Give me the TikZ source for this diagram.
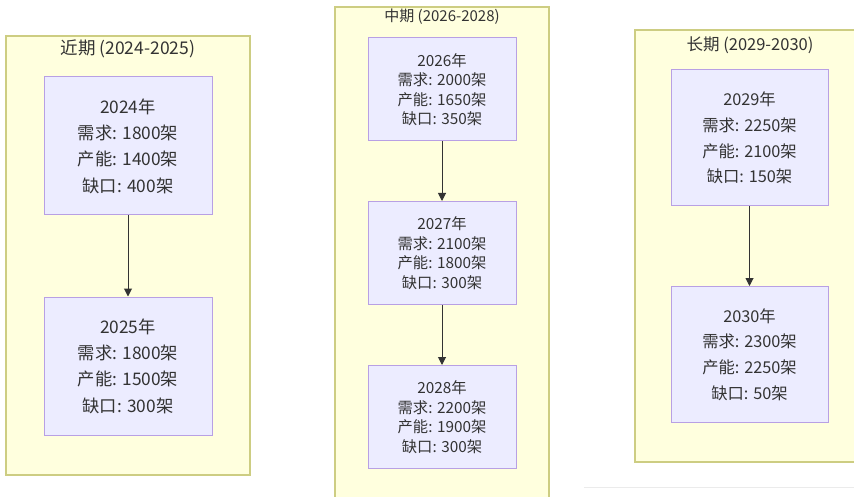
\documentclass[tikz,border=0pt]{standalone}
\usepackage{fontspec}
\setmainfont{Noto Sans CJK SC}
\usetikzlibrary{arrows.meta}
\definecolor{grpfill}{RGB}{255,255,222}
\definecolor{grpline}{RGB}{205,205,130}
\definecolor{yrfill}{RGB}{236,236,255}
\definecolor{yrline}{RGB}{184,160,228}
\definecolor{ink}{RGB}{51,51,51}

\begin{document}
\begin{tikzpicture}[x=1pt,y=-1pt,line width=0.8pt,>=Stealth]
\tikzset{grp/.style={draw=grpline,fill=grpfill,line width=1.4pt,inner sep=0pt},
  yr/.style={draw=yrline,fill=yrfill,line width=1pt,inner sep=0pt,align=center,text=ink},
  grptitle/.style={text=ink,inner sep=0pt},
  flow/.style={draw=ink,line width=1pt,-{Triangle[length=8pt,width=8pt]}}}
\clip (0,0) rectangle (854,497);
\fill[white] (0,0) rectangle (854,497);
% ---------- near term ----------
\node[grp,minimum width=244pt,minimum height=439pt] (near) at (128,255.5) {};
\node[grptitle,font=\fontsize{17.5}{20}\selectfont] (nearT) at (128,49) {近期 (2024-2025)};
\begin{scope}[every node/.append style={yr,minimum width=168pt,minimum height=138pt,font=\fontsize{17.3}{26.3}\selectfont}]
  \node (y24) at (128,146) {2024年\\需求: 1800架\\产能: 1400架\\缺口: 400架};
  \node (y25) at (128,366) {2025年\\需求: 1800架\\产能: 1500架\\缺口: 300架};
\end{scope}
\draw[flow] (y24) -- (y25);
% ---------- mid term ----------
\node[grp,minimum width=214pt,minimum height=520pt] (mid) at (442,267) {};
\node[grptitle,font=\fontsize{15}{17}\selectfont] (midT) at (442,17) {中期 (2026-2028)};
\begin{scope}[every node/.append style={yr,minimum width=148pt,minimum height=103pt,font=\fontsize{15.3}{19.5}\selectfont}]
  \node (y26) at (442,89.5) {2026年\\需求: 2000架\\产能: 1650架\\缺口: 350架};
  \node (y27) at (442,253) {2027年\\需求: 2100架\\产能: 1800架\\缺口: 300架};
  \node (y28) at (442,417) {2028年\\需求: 2200架\\产能: 1900架\\缺口: 300架};
\end{scope}
\draw[flow] (y26) -- (y27);
\draw[flow] (y27) -- (y28);
% ---------- long term ----------
\node[grp,minimum width=232pt,minimum height=432pt] (far) at (751,246) {};
\node[grptitle,font=\fontsize{16.5}{19}\selectfont] (farT) at (750,45) {长期 (2029-2030)};
\begin{scope}[every node/.append style={yr,minimum width=157pt,minimum height=136pt,font=\fontsize{16.3}{25.8}\selectfont}]
  \node (y29) at (749.5,138) {2029年\\需求: 2250架\\产能: 2100架\\缺口: 150架};
  \node (y30) at (749.5,354.5) {2030年\\需求: 2300架\\产能: 2250架\\缺口: 50架};
\end{scope}
\draw[flow] (y29) -- (y30);
% stray rule at the foot
\draw[line width=1pt,draw=black!8] (584,487) -- (854,487);
\end{tikzpicture}
\end{document}
